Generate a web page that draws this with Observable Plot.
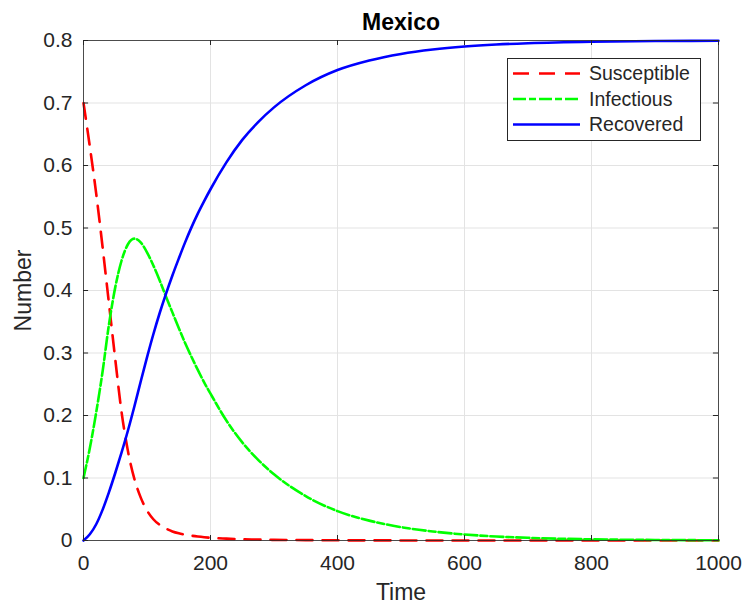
<!DOCTYPE html>
<html>
<head>
<meta charset="utf-8">
<script src="https://cdn.jsdelivr.net/npm/d3@7"></script>
<script src="https://cdn.jsdelivr.net/npm/@observablehq/plot@0.6"></script>
<style>
  html, body { margin: 0; padding: 0; background: #fff; }
  #chart svg { display: block; font-family: "Liberation Sans", Arial, sans-serif; }
</style>
</head>
<body>
<div id="chart"></div>
<script>
const title = "Mexico";
const xLabel = "Time";
const yLabel = "Number";
const seriesNames = ["Susceptible", "Infectious", "Recovered"];
const seriesColors = ["#ff0000", "#00ff00", "#0000ff"];
const seriesDash = ["16,10", "13,3,7,3", null];

const time = [0,10,20,30,40,50,60,70,80,90,100,110,120,130,140,150,160,170,180,190,200,225,250,275,300,350,400,450,500,550,600,650,700,800,900,1000];
const susceptible = [0.700,0.630,0.555,0.470,0.380,0.290,0.205,0.143,0.099,0.069,0.048,0.034,0.025,0.019,0.0145,0.0115,0.0093,0.0077,0.0064,0.0053,0.0044,0.003,0.002,0.0015,0.001,0.0006,0.0003,0.0002,0.0001,0.00006,0.00003,0.00002,0.00001,0,0,0];
const infectious = [0.100,0.148,0.205,0.270,0.345,0.405,0.448,0.474,0.483,0.477,0.461,0.440,0.416,0.390,0.365,0.340,0.316,0.294,0.273,0.253,0.235,0.192,0.157,0.129,0.106,0.071,0.047,0.0318,0.0214,0.0144,0.0096,0.0064,0.0043,0.0019,0.00087,0.00039];
const recovered = [0,0.010,0.026,0.049,0.077,0.108,0.141,0.176,0.214,0.254,0.293,0.330,0.364,0.395,0.424,0.451,0.477,0.501,0.523,0.543,0.562,0.605,0.641,0.6695,0.693,0.7284,0.7527,0.768,0.7785,0.7856,0.7904,0.7936,0.7957,0.7981,0.7991,0.7996];

const xTicks = [0,200,400,600,800,1000];
const xTickLabels = ["0","200","400","600","800","1000"];
const yTicks = [0,0.1,0.2,0.3,0.4,0.5,0.6,0.7,0.8];
const yTickLabels = ["0","0.1","0.2","0.3","0.4","0.5","0.6","0.7","0.8"];

const seriesValues = [susceptible, infectious, recovered];
const data = seriesNames.map((name, k) => time.map((t, i) => ({t, v: seriesValues[k][i], name})));

const axisColor = "#262626";
const gridColor = "#e3e3e3";

const lineMarks = data.map((d, k) => Plot.line(d, {
  x: "t", y: "v", stroke: seriesColors[k], strokeWidth: 2.6,
  strokeDasharray: seriesDash[k] || undefined, curve: "monotone-x"
}));

const plot = Plot.plot({
  width: 747,
  height: 605,
  marginLeft: 83,
  marginRight: 29,
  marginTop: 40,
  marginBottom: 65,
  style: {fontFamily: "'Liberation Sans', Arial, sans-serif", color: axisColor, background: "#fff"},
  x: {domain: [0, 1000], ticks: xTicks},
  y: {domain: [0, 0.8], ticks: yTicks},
  marks: [
    Plot.gridX(xTicks, {stroke: gridColor, strokeOpacity: 1, strokeWidth: 1}),
    Plot.gridY(yTicks, {stroke: gridColor, strokeOpacity: 1, strokeWidth: 1}),
    ...lineMarks,
    Plot.ruleX(xTicks, {y1: 0, y2: 0.008, stroke: axisColor, strokeWidth: 1}),
    Plot.ruleX(xTicks, {y1: 0.792, y2: 0.8, stroke: axisColor, strokeWidth: 1}),
    Plot.ruleY(yTicks, {x1: 0, x2: 8, stroke: axisColor, strokeWidth: 1}),
    Plot.ruleY(yTicks, {x1: 992, x2: 1000, stroke: axisColor, strokeWidth: 1}),
    Plot.frame({stroke: axisColor, strokeWidth: 1, strokeOpacity: 0.8}),
    Plot.axisX(xTicks, {tickSize: 0, tickPadding: 15, fontSize: 21, label: null, fill: axisColor,
      tickFormat: (d) => xTickLabels[xTicks.indexOf(d)]}),
    Plot.axisY(yTicks, {tickSize: 0, tickPadding: 11, fontSize: 21, label: null, fill: axisColor,
      tickFormat: (d) => yTickLabels[yTicks.indexOf(d)]}),
    Plot.text([xLabel], {frameAnchor: "bottom", dy: 59, fontSize: 23, fill: axisColor}),
    Plot.text([yLabel], {frameAnchor: "left", dx: -60, rotate: -90, textAnchor: "middle", fontSize: 23, fill: axisColor}),
    Plot.text([title], {frameAnchor: "top", dy: -27, fontSize: 23, fontWeight: "bold", fill: "#000"})
  ]
});

document.getElementById("chart").appendChild(plot);

// Legend (layout only)
const svg = d3.select(plot);
const lg = svg.append("g").attr("class", "legend").attr("text-anchor", "start");
const bx = 507, by = 58, bw = 193, bh = 82;
lg.append("rect").attr("x", bx + 0.5).attr("y", by + 0.5).attr("width", bw).attr("height", bh)
  .attr("fill", "#fff").attr("stroke", axisColor).attr("stroke-width", 1);
seriesNames.forEach((name, k) => {
  const yy = by + 15.5 + k * 25.5;
  const line = lg.append("line").attr("x1", bx + 6).attr("x2", bx + 73).attr("y1", yy).attr("y2", yy)
    .attr("stroke", seriesColors[k]).attr("stroke-width", 2.6);
  if (seriesDash[k]) line.attr("stroke-dasharray", seriesDash[k]);
  lg.append("text").attr("x", bx + 82).attr("y", yy).attr("dy", "0.35em")
    .attr("text-anchor", "start")
    .attr("font-size", 19.5).attr("fill", axisColor).text(name);
});
</script>
</body>
</html>
